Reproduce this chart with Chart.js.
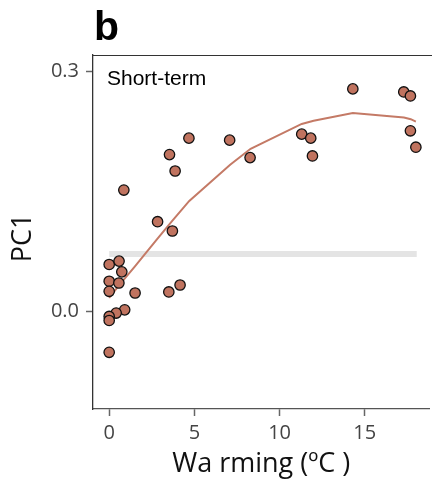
<!DOCTYPE html>
<html>
<head>
<meta charset="utf-8">
<script src="https://cdn.jsdelivr.net/npm/chart.js@4/dist/chart.umd.min.js"></script>
<style>
  html, body { margin: 0; padding: 0; background: #fff; overflow: hidden; }
  canvas { display: block; }
</style>
</head>
<body>
<canvas id="c" width="436" height="483"></canvas>
<script>
// Warming (°C) of each site and its PC1 score
const warming = [0, 0.58, 0.74, 0, 0.57, 0, 1.52, 3.5, 4.16, 0.91, 0.41, 0, 0, 0,
                 2.84, 3.71, 4.68, 3.54, 3.87, 0.86,
                 7.07, 8.27, 11.3, 11.83, 11.93,
                 14.3, 17.29, 17.68, 17.68, 18.0];
const pc1 = [0.0586, 0.0628, 0.0494, 0.0377, 0.0355, 0.0251, 0.023, 0.0243, 0.033, 0.002, -0.002, -0.0063, -0.0113, -0.051,
             0.112, 0.1004, 0.2163, 0.1958, 0.1753, 0.1515,
             0.2138, 0.192, 0.2213, 0.2163, 0.1941,
             0.2778, 0.274, 0.269, 0.2255, 0.205];

// Smoothed trend of PC1 against warming
const fitX = [0, 0.6, 1.5, 2.8, 3.7, 4.7, 7.1, 8.3, 11.3, 12.0, 14.3, 17.3, 17.7, 18.0];
const fitY = [0.017, 0.033, 0.056, 0.090, 0.113, 0.138, 0.183, 0.203, 0.234, 0.238, 0.2477, 0.242, 0.240, 0.237];

// Reference level (grey band)
const refX = [0, 18.05];
const refY = [0.0718, 0.0718];

const xTicks = [0, 5, 10, 15];
const yTicks = [0.0, 0.3];

const pts = warming.map((x, i) => ({ x: x, y: pc1[i] }));
const fit = fitX.map((x, i) => ({ x: x, y: fitY[i] }));
const ref = refX.map((x, i) => ({ x: x, y: refY[i] }));

const tickFont = { family: "'Open Sans', sans-serif", size: 20 };
const titleFont = { family: "'Open Sans', sans-serif", size: 27 };

const annotate = {
  id: 'annotate',
  afterDraw(chart) {
    const { ctx, chartArea } = chart;
    ctx.save();
    // top frame line
    ctx.strokeStyle = '#333';
    ctx.lineWidth = 1.2;
    ctx.beginPath();
    ctx.moveTo(chartArea.left, chartArea.top + 0.5);
    ctx.lineTo(chart.width, chartArea.top + 0.5);
    ctx.stroke();
    // panel letter
    ctx.fillStyle = '#000';
    ctx.textBaseline = 'alphabetic';
    ctx.textAlign = 'left';
    ctx.font = "bold 41px 'Liberation Sans', Arial, sans-serif";
    ctx.fillText('b', 94, 40);
    // panel label
    ctx.font = "21px 'Liberation Sans', Arial, sans-serif";
    ctx.fillText('Short-term', 107, 85);
    // y-axis title
    ctx.translate(23, 238);
    ctx.rotate(-Math.PI / 2);
    ctx.textAlign = 'center';
    ctx.textBaseline = 'middle';
    ctx.fillStyle = '#111';
    ctx.font = "27px 'Open Sans', sans-serif";
    ctx.fillText('PC1', 0, 0);
    ctx.restore();
  }
};

new Chart(document.getElementById('c'), {
  type: 'scatter',
  data: {
    datasets: [
      {
        data: pts,
        order: 0,
        backgroundColor: '#c0735f',
        borderColor: '#111',
        borderWidth: 1.3,
        pointRadius: 5.2,
        pointHoverRadius: 5.2
      },
      {
        type: 'line',
        data: fit,
        order: 1,
        borderColor: '#c47a66',
        borderWidth: 2,
        pointRadius: 0,
        fill: false,
        tension: 0
      },
      {
        type: 'line',
        data: ref,
        order: 2,
        borderColor: '#e4e4e4',
        borderWidth: 6,
        borderCapStyle: 'butt',
        pointRadius: 0,
        fill: false
      }
    ]
  },
  options: {
    responsive: false,
    animation: false,
    events: [],
    layout: { padding: { top: 55, left: 0, right: 0, bottom: 0 } },
    plugins: {
      legend: { display: false },
      tooltip: { enabled: false },
      title: { display: false }
    },
    scales: {
      x: {
        type: 'linear',
        min: -0.95,
        max: 18.8,
        afterBuildTicks: (s) => { s.ticks = xTicks.map(v => ({ value: v })); },
        afterFit: (s) => { s.height = 74; },
        border: { display: true, color: '#555', width: 1.3 },
        grid: { drawOnChartArea: false, drawTicks: true, tickLength: 7, tickColor: '#666', tickWidth: 1.5 },
        ticks: { color: '#444', font: tickFont, padding: 5, callback: (v) => String(v) },
        title: { display: true, text: 'Wa rming (ºC )', color: '#111', font: titleFont, padding: { top: 0, bottom: 2 } }
      },
      y: {
        type: 'linear',
        min: -0.1218,
        max: 0.3201,
        afterBuildTicks: (s) => { s.ticks = yTicks.map(v => ({ value: v })); },
        afterFit: (s) => { s.width = 93; },
        border: { display: true, color: '#333', width: 1.3 },
        grid: { drawOnChartArea: false, drawTicks: true, tickLength: 7, tickColor: '#666', tickWidth: 1.5 },
        ticks: { color: '#444', font: tickFont, padding: 7, callback: (v) => Number(v).toFixed(1) },
        title: { display: false }
      }
    }
  },
  plugins: [annotate]
});
</script>
</body>
</html>
